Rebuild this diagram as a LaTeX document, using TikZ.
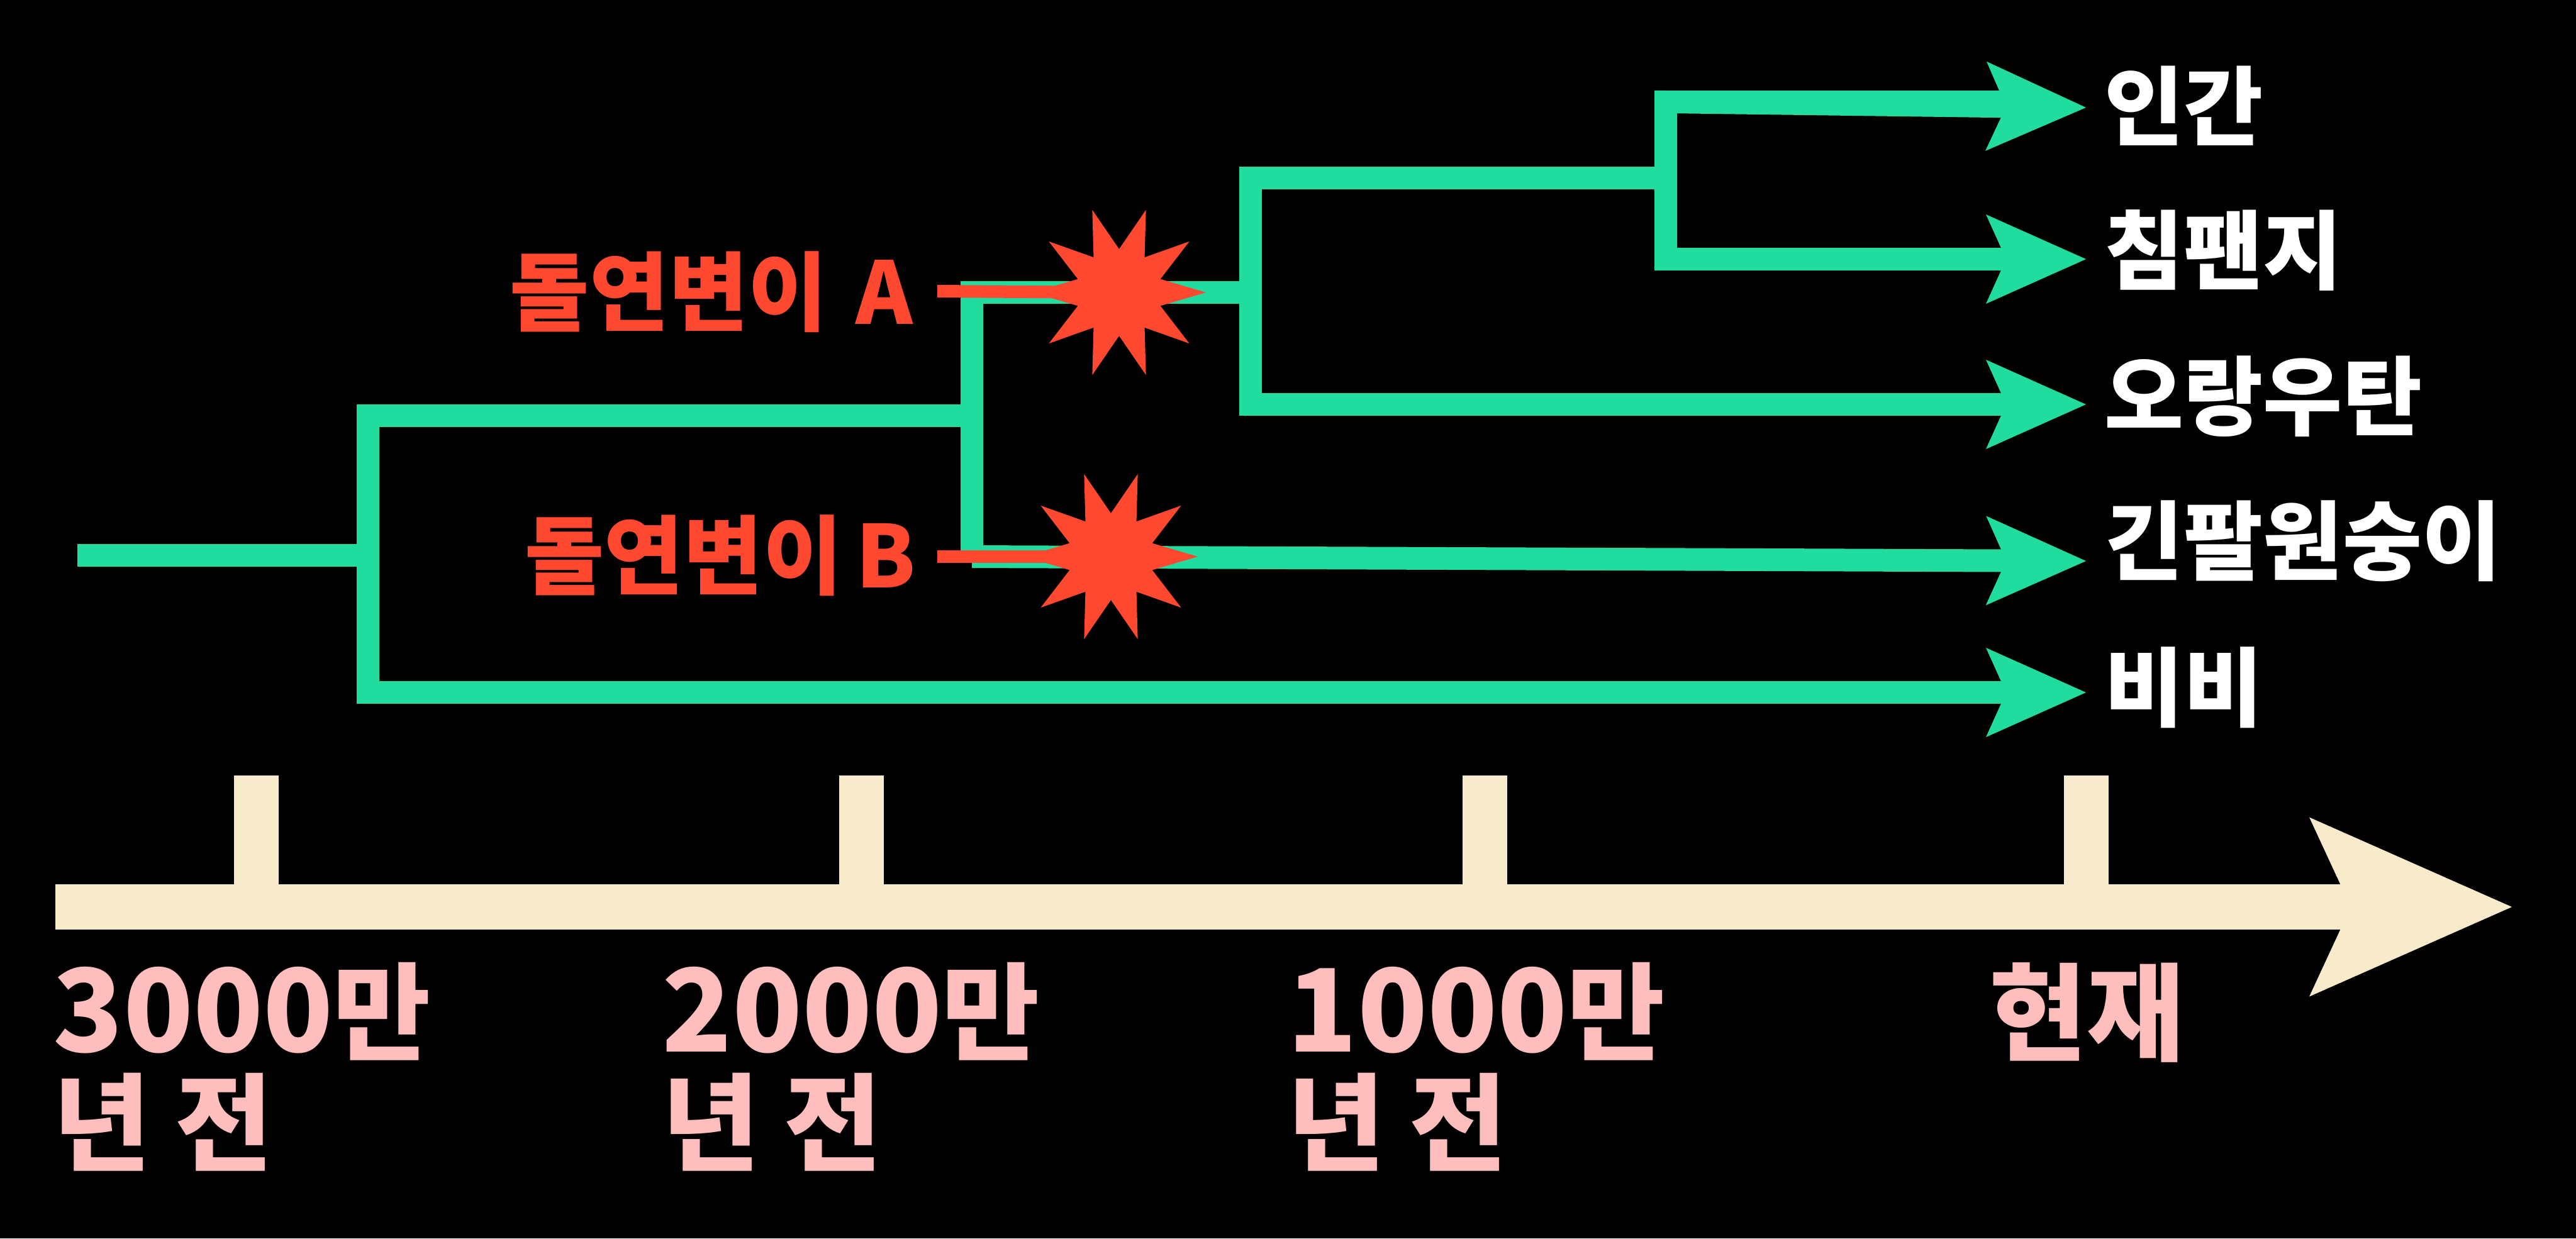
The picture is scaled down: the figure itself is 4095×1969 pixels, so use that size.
\documentclass[tikz,border=0pt]{standalone}
\usepackage{fontspec}
\setmainfont{Noto Sans CJK KR}
\usetikzlibrary{arrows.meta,shapes.geometric}

\definecolor{branchgreen}{HTML}{21DC9F}
\definecolor{mutred}{HTML}{FF4830}
\definecolor{axiscream}{HTML}{F7EBCB}
\definecolor{agepink}{HTML}{FFBEBE}

\newcommand{\agenum}[1]{{\fontsize{52pt}{50pt}\selectfont #1}}

\tikzset{
  greentip/.tip={Stealth[length=15.9mm, width=14.2mm, inset=3.2mm, line width=0pt, fill=branchgreen]},
  branch/.style={draw=branchgreen, line width=3.6mm, line cap=butt, line join=miter},
  tipped/.style={-greentip},
  bothtipped/.style={greentip-greentip},
  mutline/.style={draw=mutred, line width=2mm},
  burst/.style={star, star points=10, star point ratio=2, shape border rotate=18, minimum size=27.6mm, inner sep=0pt, outer sep=0pt, fill=mutred},
  axisline/.style={draw=axiscream, line width=7.2mm, -{Stealth[length=32.2mm, width=28.5mm, inset=6.6mm, line width=0pt, fill=axiscream]}},
  tickline/.style={draw=axiscream, line width=7.1mm},
  species/.style={anchor=west, inner sep=0pt, text=white, font=\fontsize{39pt}{39pt}\selectfont\bfseries},
  mutlabel/.style={anchor=east, inner sep=0pt, text=mutred, font=\fontsize{39pt}{39pt}\selectfont\bfseries},
  agelabel/.style={anchor=north west, inner sep=0pt, align=left, text=agepink, font=\fontsize{48pt}{50pt}\selectfont\bfseries}
}

\begin{document}
\begin{tikzpicture}[x=0.1mm, y=-0.1mm]
  \fill[black] (0,0) rectangle (4095,1969);
  \useasboundingbox (0,0) rectangle (4095,1969);

  % Branch points
  \coordinate (root) at (123,883);
  \coordinate (F1) at (585,883);
  \coordinate (F1top) at (585,661);
  \coordinate (F1tip) at (3316,1101);
  \coordinate (F1bot) at (585,1101);
  \coordinate (F2) at (1545,661);
  \coordinate (F2top) at (1545,465);
  \coordinate (F2bot) at (1545,885);
  \coordinate (F3) at (1988,465);
  \coordinate (F3top) at (1988,283);
  \coordinate (F3bot) at (1988,643);
  \coordinate (F4) at (2648,283);
  \coordinate (F4top) at (2648,162);
  \coordinate (F4flat) at (3190,162);
  \coordinate (F4bot) at (2648,412);

  % Arrow ends
  \coordinate (T1) at (3316,171);
  \coordinate (T2) at (3316,412);
  \coordinate (T3) at (3316,643);
  \coordinate (T4) at (3316,892);

  % Tree
  \draw[branch] (root) -- (F1);
  \draw[branch, tipped] (F2) -- (F1top) -- (F1bot) -- (F1tip);
  \draw[branch] (F3) -- (F2top) -- (F2bot);
  \draw[branch, tipped] (F2bot) -- (T4);
  \draw[branch, tipped] (F4) -- (F3top) -- (F3bot) -- (T3);
  \draw[branch] (F4top) -- (F4flat);
  \draw[branch, bothtipped] (T1) -- (F4top) -- (F4bot) -- (T2);

  % Mutations
  \coordinate (mutA) at (1490,463);
  \coordinate (mutB) at (1490,885);
  \coordinate (hitA) at (1779,465);
  \coordinate (hitB) at (1766,885);
  \draw[mutline] (mutA) -- (hitA);
  \draw[mutline] (mutB) -- (hitB);
  \node[burst] (starA) at (hitA) {};
  \node[burst] (starB) at (hitB) {};
  \node[mutlabel] (labA) at (1452,464) {돌연변이 \hspace{4pt}A};
  \node[mutlabel] (labB) at (1456,883) {돌연변이 \hspace{-3pt}B};

  % Species
  \node[species] (human) at (3345,168) {인간};
  \node[species] (chimp) at (3345,398) {침팬지};
  \node[species] (orang) at (3345,630) {오랑우탄};
  \node[species] (gibbon) at (3345,860) {긴팔원숭이};
  \node[species] (baboon) at (3345,1093) {비비};

  % Time axis
  \coordinate (axL) at (88,1442);
  \coordinate (axR) at (3993,1442);
  \coordinate (t30) at (407,1442);
  \coordinate (t20) at (1369,1442);
  \coordinate (t10) at (2360,1442);
  \coordinate (t0) at (3316,1442);
  \coordinate (t30top) at (407,1233);
  \coordinate (t20top) at (1369,1233);
  \coordinate (t10top) at (2360,1233);
  \coordinate (t0top) at (3316,1233);
  \draw[tickline] (t30top) -- (t30);
  \draw[tickline] (t20top) -- (t20);
  \draw[tickline] (t10top) -- (t10);
  \draw[tickline] (t0top) -- (t0);
  \draw[axisline] (axL) -- (axR);

  % Ages
  \node[agelabel] (age30) at (84,1530) {\agenum{3000}만\\년 전};
  \node[agelabel] (age20) at (1052,1530) {\agenum{2000}만\\년 전};
  \node[agelabel] (age10) at (2046,1530) {\agenum{1000}만\\년 전};
  \node[agelabel] (age0) at (3162,1530) {현재};
\end{tikzpicture}
\end{document}
